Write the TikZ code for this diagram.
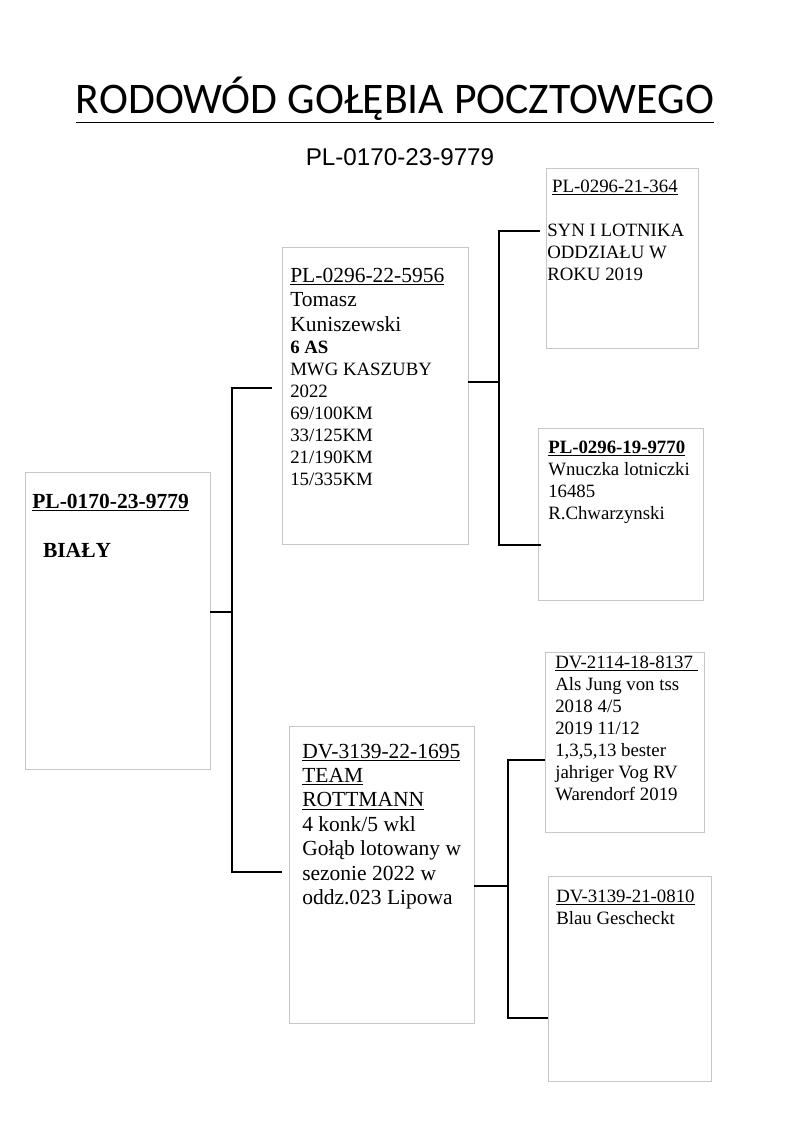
\documentclass[tikz,border=0pt]{standalone}
\usepackage{fontspec}
\setmainfont{Liberation Serif}
\newfontfamily\titlefont{Carlito}
\newfontfamily\ringfont{Liberation Sans}
\usetikzlibrary{positioning}

\newcommand{\bigtxt}{\fontsize{16}{18.2}\selectfont}
\newcommand{\smalltxt}{\fontsize{14}{16.4}\selectfont}

\begin{document}
\begin{tikzpicture}[x=0.744pt,y=-0.744pt,
  box/.style={draw=black!22,line width=0.7pt,inner sep=0pt},
  txt/.style={anchor=north west,inner sep=0pt,align=left},
  conn/.style={line width=1.7pt}
]
\useasboundingbox (0,0) rectangle (800,1132);

% heading
\node[anchor=base,inner sep=0pt,font=\titlefont\fontsize{32.5}{38}\selectfont] (title) at (395,113) {\underline{RODOWÓD GOŁĘBIA POCZTOWEGO}};
\node[anchor=base,inner sep=0pt,font=\ringfont\fontsize{18}{21}\selectfont] (ring) at (400,165) {PL-0170-23-9779};

% boxes
\node[box,minimum width=137.6pt,minimum height=221pt] (bird) at (117.5,620.5) {};
\node[box,minimum width=138.4pt,minimum height=221pt] (sire) at (375,395.5) {};
\node[box,minimum width=137.6pt,minimum height=221pt] (dam) at (381.5,874.5) {};
\node[box,minimum width=113.1pt,minimum height=133.9pt] (sireS) at (622,258) {};
\node[box,minimum width=122.8pt,minimum height=128pt] (sireD) at (620.5,514) {};
\node[box,minimum width=118.3pt,minimum height=133.9pt] (damS) at (624.5,742) {};
\node[box,minimum width=121.3pt,minimum height=152.5pt] (damD) at (629.5,978.5) {};

% texts
\node[txt,font=\bigtxt] (birdT) at (32,493.5) {\textbf{\underline{PL-0170-23-9779}}\\[18.2pt]\hspace{8pt}\textbf{BIAŁY}};
\node[txt,font=\smalltxt] (sireT) at (290,267.5) {{\bigtxt\underline{PL-0296-22-5956}}\\[1.8pt]
  {\bigtxt Tomasz}\\[1.8pt]{\bigtxt Kuniszewski}\\\textbf{6 AS}\\MWG KASZUBY\\2022\\69/100KM\\33/125KM\\21/190KM\\15/335KM};
\node[txt,font=\bigtxt] (damT) at (302,743.5) {\underline{DV-3139-22-1695}\\\underline{TEAM}\\\underline{ROTTMANN}\\4 konk/5 wkl\\Gołąb lotowany w\\sezonie 2022 w\\oddz.023 Lipowa};
\node[txt,font=\smalltxt] (sireST) at (547,179.3) {\hspace{3.7pt}\underline{PL-0296-21-364}\\[16.4pt]SYN I LOTNIKA\\ODDZIAŁU W\\ROKU 2019};
\node[txt,font=\smalltxt] (sireDT) at (548,440.3) {\textbf{\underline{PL-0296-19-9770}}\\Wnuczka lotniczki\\16485\\R.Chwarzynski};
\node[txt,font=\smalltxt] (damST) at (555,655.3) {\underline{DV-2114-18-8137\ }\\Als Jung von tss\\2018 4/5\\2019 11/12\\1,3,5,13 bester\\jahriger Vog RV\\Warendorf 2019};
\node[txt,font=\smalltxt] (damDT) at (556,889.3) {\underline{DV-3139-21-0810}\\Blau Gescheckt};

% connectors
\coordinate (j1) at (232,612);
\coordinate (sireIn) at (272,388);
\coordinate (damIn) at (282,872);
\draw[conn] (bird.east |- j1) -- (j1);
\draw[conn] (sireIn) -| (j1) |- (damIn);

\coordinate (j2) at (499,382);
\coordinate (sireSIn) at (540,231);
\coordinate (sireDIn) at (541,545);
\draw[conn] (sire.east |- j2) -- (j2);
\draw[conn] (sireSIn) -| (j2) |- (sireDIn);

\coordinate (j3) at (508,886);
\coordinate (damSIn) at (545,760);
\coordinate (damDIn) at (548,1018);
\draw[conn] (dam.east |- j3) -- (j3);
\draw[conn] (damSIn) -| (j3) |- (damDIn);
\end{tikzpicture}
\end{document}
